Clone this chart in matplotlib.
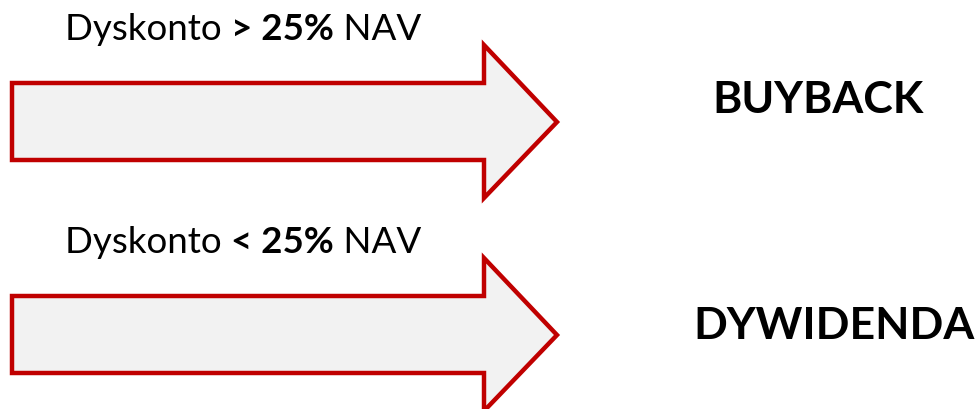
import matplotlib
matplotlib.use("Agg")
import matplotlib.pyplot as plt
from matplotlib.patches import Polygon

# 条件と結果
conditions = [">", "<"]
thresholds = ["25%", "25%"]
outcomes = ["BUYBACK", "DYWIDENDA"]

plt.rcParams["font.family"] = ["Lato", "DejaVu Sans"]

fig = plt.figure(figsize=(9.76, 4.09), dpi=100)
ax = fig.add_axes([0, 0, 1, 1])
ax.set_xlim(0, 976)
ax.set_ylim(409, 0)
ax.axis("off")

red = "#C00000"
fill = "#F2F2F2"

row_y = [122, 335]       # 矢印の中心線
label_y = [40, 253]      # 上のテキストのベースライン
outcome_x = [818, 834]
outcome_y = [100, 326]


def arrow(cy):
    pts = [
        (12, cy - 39), (484, cy - 39), (484, cy - 77),
        (557, cy), (484, cy + 76), (484, cy + 38), (12, cy + 38),
    ]
    ax.add_patch(Polygon(pts, closed=True, facecolor=fill, edgecolor=red,
                         linewidth=3.2, joinstyle="miter"))


fig.canvas.draw()
renderer = fig.canvas.get_renderer()

for i, (cond, thr, out) in enumerate(zip(conditions, thresholds, outcomes)):
    arrow(row_y[i])

    # 太字と通常を混ぜたラベルを順番に並べる
    x = 65
    parts = [("Dyskonto ", "normal"), (cond + " " + thr, "bold"), (" NAV", "normal")]
    for txt, w in parts:
        t = ax.text(x, label_y[i], txt, fontsize=26.5, fontweight=w,
                    ha="left", va="baseline", color="black")
        bb = t.get_window_extent(renderer=renderer)
        x += bb.width

    ax.text(outcome_x[i], outcome_y[i], out, fontsize=32, fontweight="bold",
            ha="center", va="center", color="black")

fig.savefig("out.png", dpi=100)
plt.close(fig)
